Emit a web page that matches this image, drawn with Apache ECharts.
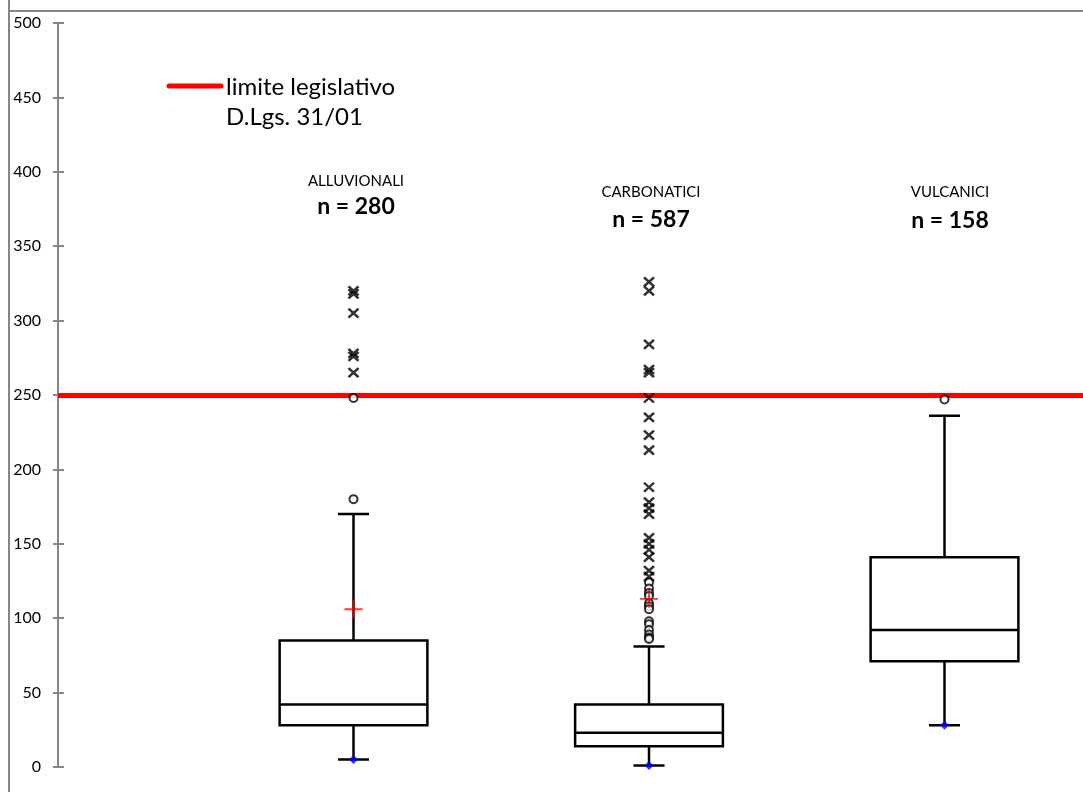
<!DOCTYPE html>
<html>
<head>
<meta charset="utf-8">
<script src="https://cdn.jsdelivr.net/npm/echarts@6/dist/echarts.min.js"></script>
<style>
html,body{margin:0;padding:0;background:#fff;}
#chart{width:1083px;height:792px;}
</style>
</head>
<body>
<div id="chart"></div>
<script>
// ---- data ----
const categories = ['ALLUVIONALI', 'CARBONATICI', 'VULCANICI'];
const sampleSizes = ['n = 280', 'n = 587', 'n = 158'];
const positions = [1, 2, 3];
// [min, Q1, median, Q3, upper whisker]
const boxStats = [
  [5, 28, 42, 85, 170],
  [1, 14, 23, 42, 81],
  [28, 71, 92, 141, 236]
];
const means = [106, 113, null];
const mildOutliers = [
  [180, 248],
  [124, 120, 117, 115, 110, 108, 106, 98, 96, 92, 89, 87, 86],
  [247]
];
const extremeOutliers = [
  [320, 318, 305, 278, 276, 265],
  [326, 320, 284, 267, 265, 248, 235, 223, 213, 188, 178, 174, 170, 154, 150, 146, 141, 132, 128],
  []
];
const limitValue = 250;
const limitLabel = ['limite legislativo', 'D.Lgs. 31/01'];
const yTicks = {min: 0, max: 500, interval: 50};

// ---- build ----
const boxData = positions.map((p, i) => [p].concat(boxStats[i]));
const minData = positions.map((p, i) => [p, boxStats[i][0]]);
const meanData = positions.map((p, i) => means[i] == null ? null : [p, means[i]]).filter(d => d);
const mildData = [], extremeData = [];
positions.forEach((p, i) => {
  mildOutliers[i].forEach(v => mildData.push([p, v]));
  extremeOutliers[i].forEach(v => extremeData.push([p, v]));
});

const BOX_W = 0.5, CAP_W = 0.105;
const FONT = 'Lato, "Open Sans", sans-serif';

const chart = echarts.init(document.getElementById('chart'), null, {renderer: 'canvas'});

const option = {
  animation: false,
  backgroundColor: '#fff',
  grid: {left: 58, right: 0, top: 23, bottom: 25, containLabel: false},
  xAxis: {type: 'value', min: 0, max: 1025 / 295.5, show: false},
  yAxis: [{
    type: 'value', min: yTicks.min, max: yTicks.max, interval: yTicks.interval,
    axisLine: {show: true, lineStyle: {color: '#868686', width: 2}},
    axisTick: {show: true, inside: false, length: 5, lineStyle: {color: '#868686', width: 2}},
    axisLabel: {margin: 17, color: '#000', fontSize: 16, fontFamily: FONT},
    splitLine: {show: false}
  }, {
    type: 'value', position: 'left', min: yTicks.min, max: yTicks.max, interval: yTicks.interval,
    axisLine: {show: false},
    axisTick: {show: true, inside: true, length: 6, lineStyle: {color: '#868686', width: 2}},
    axisLabel: {show: false},
    splitLine: {show: false}
  }],
  series: [
    {
      type: 'line', data: [], z: 1,
      markLine: {
        z: 1,
        silent: true, symbol: 'none',
        lineStyle: {color: '#ff0000', width: 5, type: 'solid'},
        label: {show: false},
        data: [{yAxis: limitValue}]
      }
    },
    {
      type: 'custom', z: 2,
      data: boxData,
      encode: {x: 0, y: [1, 2, 3, 4, 5]},
      renderItem: function (params, api) {
        const x = api.value(0);
        const vmin = api.value(1), q1 = api.value(2), med = api.value(3), q3 = api.value(4), vmax = api.value(5);
        const half = api.size([BOX_W, 0])[0] / 2;
        const cap = api.size([CAP_W, 0])[0] / 2;
        const pMin = api.coord([x, vmin]);
        const pQ1 = api.coord([x, q1]);
        const pMed = api.coord([x, med]);
        const pQ3 = api.coord([x, q3]);
        const pMax = api.coord([x, vmax]);
        const ls = {stroke: '#000', lineWidth: 2.5};
        return {
          type: 'group',
          children: [
            {type: 'line', shape: {x1: pQ1[0], y1: pQ1[1], x2: pMin[0], y2: pMin[1]}, style: ls},
            {type: 'line', shape: {x1: pQ3[0], y1: pQ3[1], x2: pMax[0], y2: pMax[1]}, style: ls},
            {type: 'line', shape: {x1: pMin[0] - cap, y1: pMin[1], x2: pMin[0] + cap, y2: pMin[1]}, style: ls},
            {type: 'line', shape: {x1: pMax[0] - cap, y1: pMax[1], x2: pMax[0] + cap, y2: pMax[1]}, style: ls},
            {type: 'rect', shape: {x: pQ3[0] - half, y: pQ3[1], width: 2 * half, height: pQ1[1] - pQ3[1]},
             style: {fill: '#fff', stroke: '#000', lineWidth: 2.5}},
            {type: 'line', shape: {x1: pMed[0] - half, y1: pMed[1], x2: pMed[0] + half, y2: pMed[1]}, style: ls}
          ]
        };
      }
    },
    {
      type: 'scatter', z: 3, data: mildData,
      symbol: 'circle', symbolSize: 8,
      itemStyle: {color: '#fff', borderColor: '#000', borderWidth: 2}
    },
    {
      type: 'scatter', z: 4, data: extremeData,
      symbol: 'path://M0 0L10 10M10 0L0 10', symbolSize: [10, 9],
      itemStyle: {color: 'none', borderColor: '#000', borderWidth: 2.5}
    },
    {
      type: 'scatter', z: 5, data: meanData,
      symbol: 'path://M5 0L5 10M0 5L10 5', symbolSize: 18,
      itemStyle: {color: 'none', borderColor: '#ff0000', borderWidth: 1.8}
    },
    {
      type: 'scatter', z: 5, data: minData,
      symbol: 'diamond', symbolSize: 9,
      itemStyle: {color: '#0000ff'}
    }
  ],
  graphic: [
    {type: 'line', shape: {x1: 9, y1: 0, x2: 9, y2: 792}, style: {stroke: '#868686', lineWidth: 2}, z: 10, silent: true},
    {type: 'line', shape: {x1: 9, y1: 11, x2: 1083, y2: 11}, style: {stroke: '#868686', lineWidth: 2}, z: 10, silent: true},
    {type: 'line', shape: {x1: 169, y1: 86, x2: 221, y2: 86}, style: {stroke: '#ff0000', lineWidth: 5, lineCap: 'round'}, z: 10},
    {type: 'text', x: 226, y: 87, style: {text: limitLabel[0], fontSize: 24, fontFamily: FONT, fill: '#000', verticalAlign: 'middle'}, z: 10},
    {type: 'text', x: 226, y: 117, style: {text: limitLabel[1], fontSize: 24, fontFamily: FONT, fill: '#000', verticalAlign: 'middle'}, z: 10},
    {type: 'text', x: 356, y: 181, style: {text: categories[0], fontSize: 15, fontFamily: FONT, fill: '#000', align: 'center', verticalAlign: 'middle'}, z: 10},
    {type: 'text', x: 356, y: 207, style: {text: sampleSizes[0], fontSize: 23, fontWeight: 'bold', fontFamily: FONT, fill: '#000', align: 'center', verticalAlign: 'middle'}, z: 10},
    {type: 'text', x: 651, y: 192, style: {text: categories[1], fontSize: 15, fontFamily: FONT, fill: '#000', align: 'center', verticalAlign: 'middle'}, z: 10},
    {type: 'text', x: 651, y: 220, style: {text: sampleSizes[1], fontSize: 23, fontWeight: 'bold', fontFamily: FONT, fill: '#000', align: 'center', verticalAlign: 'middle'}, z: 10},
    {type: 'text', x: 950, y: 192, style: {text: categories[2], fontSize: 15, fontFamily: FONT, fill: '#000', align: 'center', verticalAlign: 'middle'}, z: 10},
    {type: 'text', x: 950, y: 221, style: {text: sampleSizes[2], fontSize: 23, fontWeight: 'bold', fontFamily: FONT, fill: '#000', align: 'center', verticalAlign: 'middle'}, z: 10}
  ]
};
chart.setOption(option);
</script>
</body>
</html>
